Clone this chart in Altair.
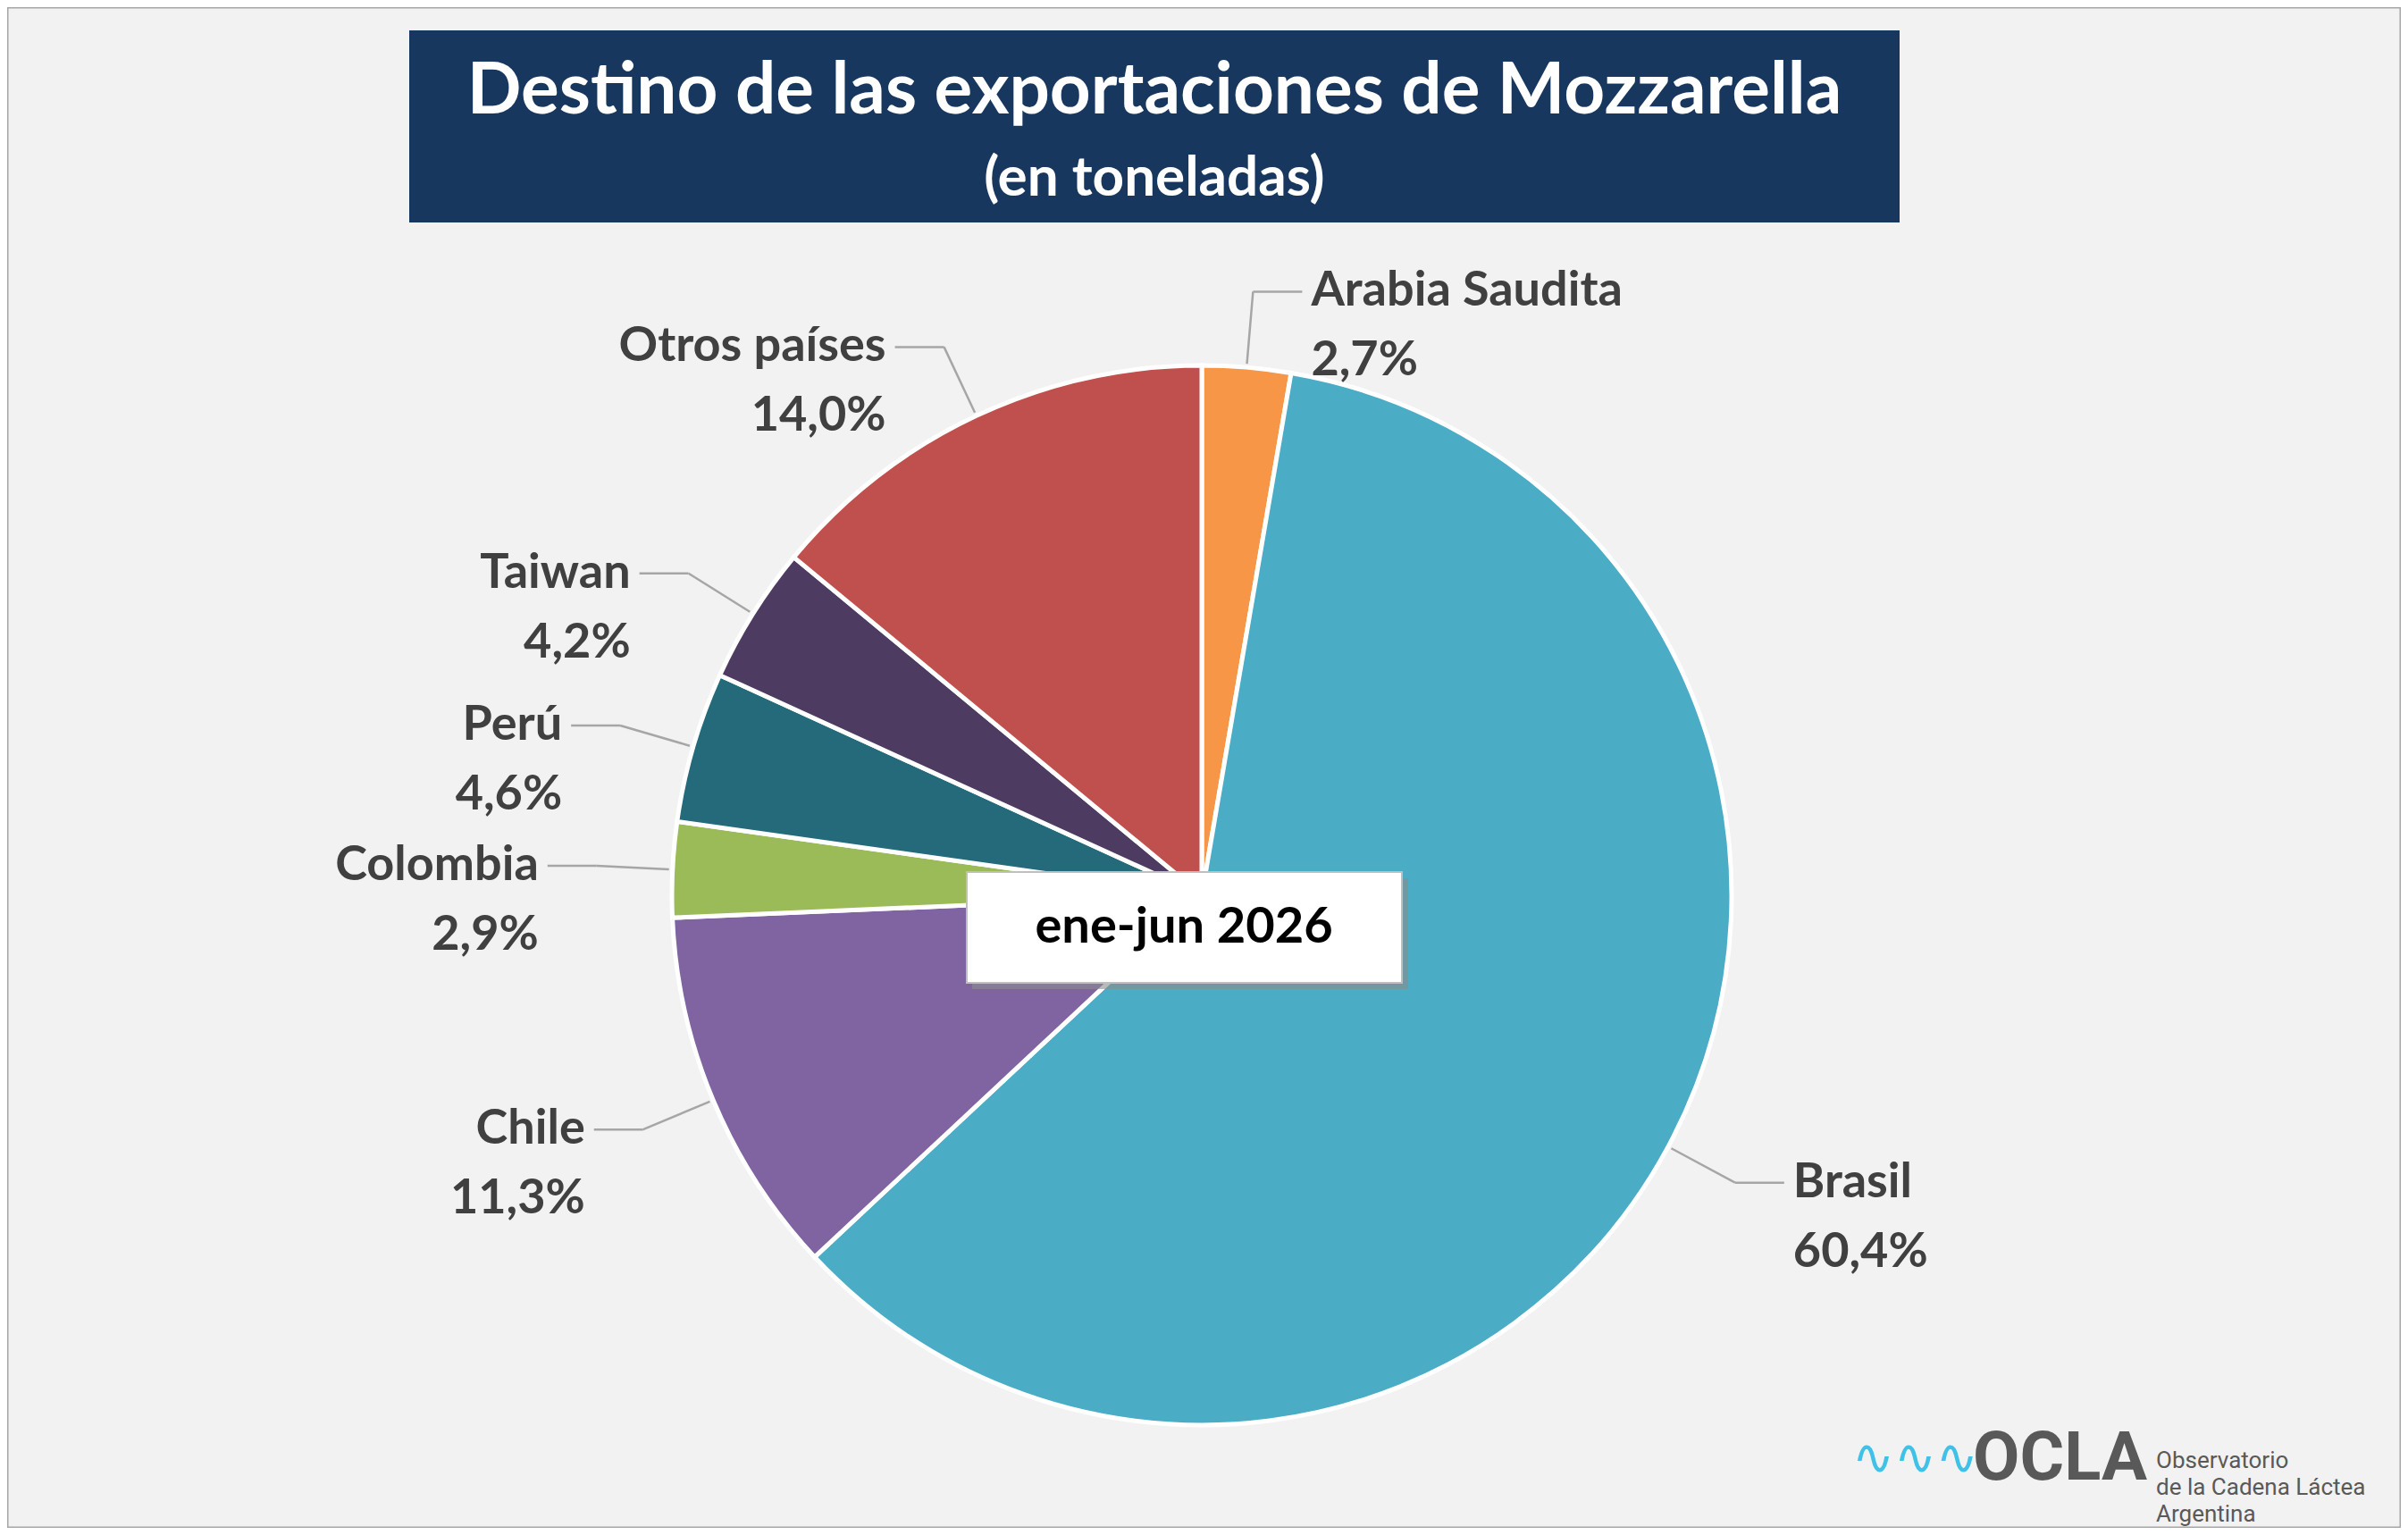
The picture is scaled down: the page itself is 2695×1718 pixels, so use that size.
import altair as alt
import pandas as pd

paises = ["Arabia Saudita", "Brasil", "Chile", "Colombia", "Perú", "Taiwan", "Otros países"]
participacion = [2.7, 60.4, 11.3, 2.9, 4.6, 4.2, 14.0]
colores = ["#f79646", "#4bacc6", "#8064a2", "#9bbb59", "#246a7a", "#4d3b62", "#c0504d"]

W, H = 2679, 1702
CX, CY, R = 1337, 994, 593
FONT = "Lato"

df = pd.DataFrame({"pais": paises, "valor": participacion, "orden": range(len(paises))})
df["etiqueta"] = df["pais"] + "\n" + df["valor"].map(lambda v: f"{v:.1f}".replace(".", ",") + "%")

pie = (
    alt.Chart(df)
    .mark_arc(outerRadius=R, stroke="white", strokeWidth=5)
    .encode(
        theta=alt.Theta("valor:Q", stack=True),
        order=alt.Order("orden:Q"),
        x=alt.value(CX), y=alt.value(CY),
        color=alt.Color("pais:N", scale=alt.Scale(domain=paises, range=colores), legend=None),
    )
)

# geometry of leader lines computed from the data
geo = (
    alt.Chart(df)
    .transform_window(cum="sum(valor)", sort=[alt.SortField("orden")])
    .transform_joinaggregate(total="sum(valor)")
    .transform_calculate(ang="(datum.cum - datum.valor/2)/datum.total*2*PI")
    .transform_calculate(side="sin(datum.ang) >= 0 ? 1 : -1")
    .transform_calculate(
        x1=f"{CX} + {R + 4}*sin(datum.ang)", y1=f"{CY} - {R + 4}*cos(datum.ang)",
        x2=f"{CX} + {R + 85}*sin(datum.ang)", y2=f"{CY} - {R + 85}*cos(datum.ang)",
    )
    .transform_calculate(x3="datum.x2 + 55*datum.side")
)

rule_kw = dict(color="#a6a6a6", strokeWidth=2.5)
leader1 = geo.mark_rule(**rule_kw).encode(
    x=alt.X("x1:Q", scale=None), y=alt.Y("y1:Q", scale=None), x2="x2:Q", y2="y2:Q"
)
leader2 = geo.mark_rule(**rule_kw).encode(
    x=alt.X("x2:Q", scale=None), y=alt.Y("y2:Q", scale=None), x2="x3:Q", y2="y2:Q"
)

text_kw = dict(font=FONT, fontSize=54, fontWeight="bold", color="#404040",
               lineBreak="\n", lineHeight=78, baseline="middle")
lab_right = geo.transform_filter("datum.side > 0").mark_text(align="left", dx=10, **text_kw).encode(
    x=alt.X("x3:Q", scale=None), y=alt.Y("y2:Q", scale=None), text="etiqueta:N"
)
lab_left = geo.transform_filter("datum.side < 0").mark_text(align="right", dx=-10, **text_kw).encode(
    x=alt.X("x3:Q", scale=None), y=alt.Y("y2:Q", scale=None), text="etiqueta:N"
)

one = pd.DataFrame({"k": [0]})
title_box = alt.Chart(one).mark_rect(color="#17375e").encode(
    x=alt.value(450), x2=alt.value(2118), y=alt.value(26), y2=alt.value(241)
)
title = alt.Chart(one).mark_text(
    font=FONT, fontSize=80, fontWeight="bold", color="white"
).encode(x=alt.value(1284), y=alt.value(95), text=alt.value("Destino de las exportaciones de Mozzarella"))
subtitle = alt.Chart(one).mark_text(
    font=FONT, fontSize=62, fontWeight="bold", color="white"
).encode(x=alt.value(1284), y=alt.value(192), text=alt.value("(en toneladas)"))

shadow = alt.Chart(one).mark_rect(color="#8c8c8c", opacity=0.6).encode(
    x=alt.value(1080), x2=alt.value(1568), y=alt.value(975), y2=alt.value(1099)
)
box = alt.Chart(one).mark_rect(color="white", stroke="#bfbfbf", strokeWidth=2).encode(
    x=alt.value(1074), x2=alt.value(1561), y=alt.value(968), y2=alt.value(1092)
)
box_text = alt.Chart(one).mark_text(
    font=FONT, fontSize=56, fontWeight="bold", color="black"
).encode(x=alt.value(1317), y=alt.value(1030), text=alt.value("ene-jun 2026"))

logo_wave = alt.Chart(one).mark_text(
    font="DejaVu Sans", fontSize=56, color="#3fc1e8", align="left"
).encode(x=alt.value(2065), y=alt.value(1625), text=alt.value("∿∿∿"))
logo = alt.Chart(one).mark_text(
    font="Roboto", fontSize=76, fontWeight="bold", color="#595959", align="left"
).encode(x=alt.value(2200), y=alt.value(1625), text=alt.value("OCLA"))
logo_sub = alt.Chart(one).mark_text(
    font="Roboto", fontSize=26, color="#595959", align="left", lineBreak="\n", lineHeight=30,
).encode(x=alt.value(2405), y=alt.value(1627),
         text=alt.value("Observatorio\nde la Cadena Láctea\nArgentina"))

chart = (
    alt.layer(leader1, leader2, pie, lab_right, lab_left, title_box, title, subtitle,
              shadow, box, box_text, logo_wave, logo, logo_sub)
    .properties(width=W, height=H, padding=0, autosize="none", background="#f2f2f2")
    .configure_view(stroke="#a6a6a6", strokeWidth=3, fill="#f2f2f2")
)
chart.save("out.html", embed_options={"renderer": "svg", "actions": False})
